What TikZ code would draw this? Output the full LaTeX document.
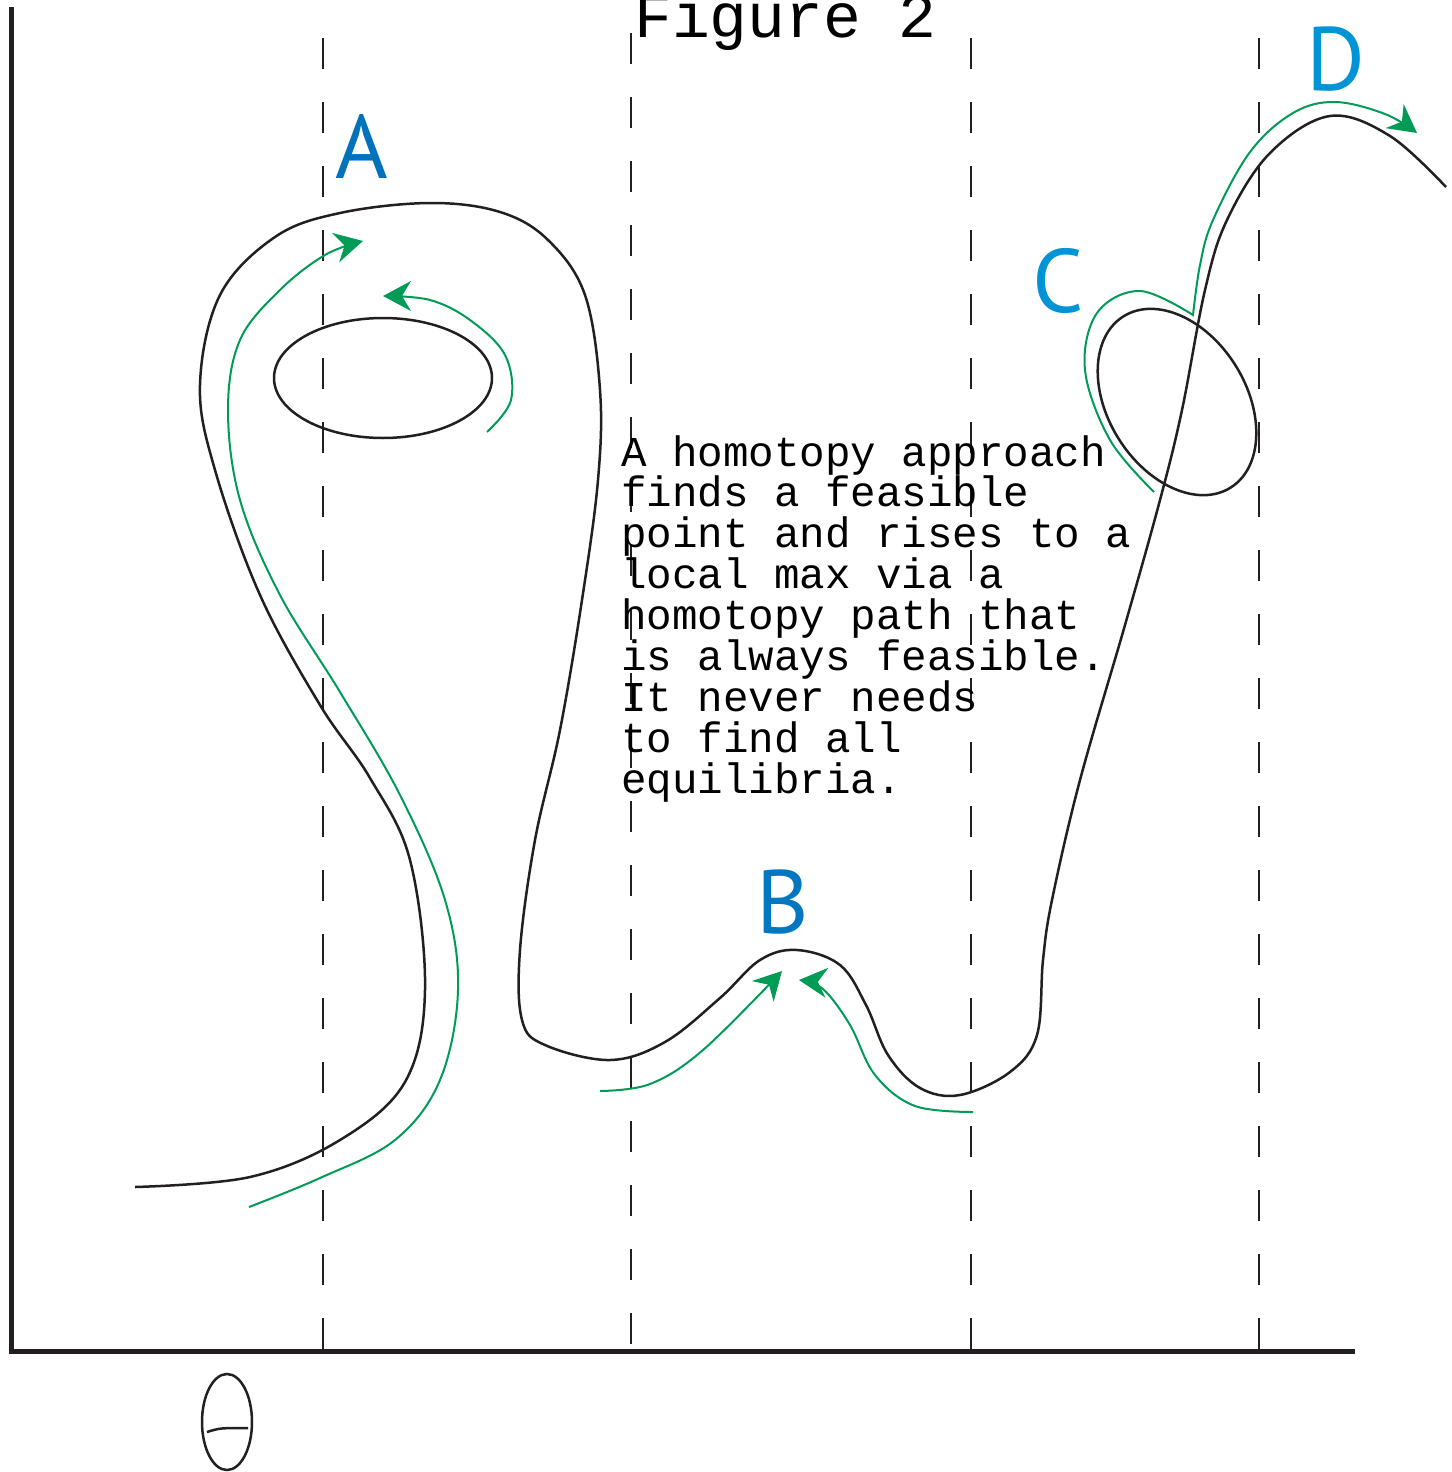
\documentclass[tikz,border=0pt]{standalone}
\usepackage{fontspec}
\setmonofont{Liberation Mono}
\newfontfamily\labelfont{PT Sans}
\usepackage{xcolor}
\definecolor{curveblack}{RGB}{35, 31, 32}
\definecolor{pathgreen}{RGB}{0, 155, 85}
\definecolor{labelblue}{RGB}{0, 114, 188}
\definecolor{labelcyan}{RGB}{0, 148, 214}
\usepackage{tikz}
\usetikzlibrary{arrows.meta}

\begin{document}
\begin{tikzpicture}[x=1pt, y=-1pt, >={Stealth[length=28pt,width=30pt]},
    curve/.style={line width=2.5pt, curveblack},
    homotopy/.style={line width=2pt, pathgreen, ->},
    guide/.style={line width=2.5pt, curveblack, dash pattern=on 31pt off 33pt},
    axisline/.style={line width=5pt, curveblack},
    ptlabel/.style={font=\labelfont\fontsize{90}{90}\selectfont, inner sep=0pt, anchor=base},
    note/.style={font=\ttfamily\fontsize{42.5}{41}\selectfont, inner sep=0pt, anchor=base west}]
    \useasboundingbox (0,0) rectangle (1451,1472);

    % Axes
    \coordinate (O) at (11,1351);
    \draw[axisline] (11,7) -- (O) -- (1355,1351);

    % Vertical dashed guides
    \foreach \x/\ys in {323/38, 631/33, 971/38, 1259/38}
        \draw[guide] (\x,\ys) -- (\x,1349);

    % Theta symbol under the axis
    \draw[line width=2.5pt, curveblack] (227,1422) ellipse [x radius=25pt, y radius=48pt];
    \draw[line width=2.5pt, curveblack] (207,1432) .. controls (220,1428) .. (248,1428);

    % Title
    \node[font=\ttfamily\fontsize{63}{63}\selectfont, inner sep=0pt, anchor=base west] (title) at (634,38) {Figure 2};

    % Solution curve
    \draw[curve] plot[smooth, tension=0.6] coordinates {
        (135,1187) (250,1177) (340,1140) (405,1082) (425,990) (410,860) (370,778)
        (320,705) (260,595) (215,470) (200,385) (220,295) (275,237) (340,213)
        (430,203) (500,212) (548,240) (585,295) (600,390) (598,480) (582,600)
        (560,730) (535,840) (520,950) (522,1020) (545,1045) (610,1060) (665,1042)
        (720,998) (760,960) (797,950) (840,965) (866,1005) (888,1055) (920,1088)
        (960,1095) (1010,1072) (1037,1035) (1043,960) (1052,900) (1080,780)
        (1125,625) (1160,500) (1182,410) (1205,290) (1227,220) (1270,153)
        (1330,116) (1390,136) (1446,187)};

    % Closed loops
    \draw[curve] (383,378) ellipse [x radius=109pt, y radius=60pt];
    \draw[curve, rotate around={-58:(1177,402)}] (1177,402) ellipse [x radius=101pt, y radius=69pt];

    % Homotopy paths
    \draw[homotopy] plot[smooth, tension=0.6] coordinates {
        (249,1207) (320,1178) (395,1140) (440,1080) (458,990) (445,900) (400,795)
        (340,692) (280,595) (240,500) (228,410) (240,340) (280,290) (325,255) (363,241)};
    \draw[homotopy] plot[smooth, tension=0.6] coordinates {
        (487,432) (511,400) (505,355) (470,320) (430,300) (383,296)};
    \draw[homotopy] plot[smooth, tension=0.6] coordinates {
        (600,1091) (650,1084) (703,1050) (782,971)};
    \draw[homotopy] plot[smooth, tension=0.6] coordinates {
        (973,1112) (915,1106) (875,1075) (850,1025) (823,989) (799,980)};
    \draw[homotopy] plot[smooth, tension=0.6] coordinates {
        (1154,492) (1110,440) (1085,370) (1097,313) (1140,291) (1193,315)}
        -- plot[smooth, tension=0.6] coordinates {
        (1193,315) (1200,265) (1213,220) (1250,152) (1293,113) (1335,102)
        (1385,114) (1417,133)};

    % Labels
    \node[ptlabel, labelblue] (labA) at (362,178) {A};
    \node[ptlabel, labelblue!85!labelcyan] (labB) at (783,933) {B};
    \node[ptlabel, labelcyan] (labC) at (1058,312) {C};
    \node[ptlabel, labelcyan] (labD) at (1336,90) {D};

    % Explanation
    \foreach \txt [count=\i] in {A homotopy approach, finds a feasible,
        point and rises to a, local max via a, homotopy path that,
        is always feasible., It never needs, to find all, equilibria.}
        \node[note] (line\i) at (621,{466+40.9*(\i-1)}) {\txt};
\end{tikzpicture}
\end{document}
